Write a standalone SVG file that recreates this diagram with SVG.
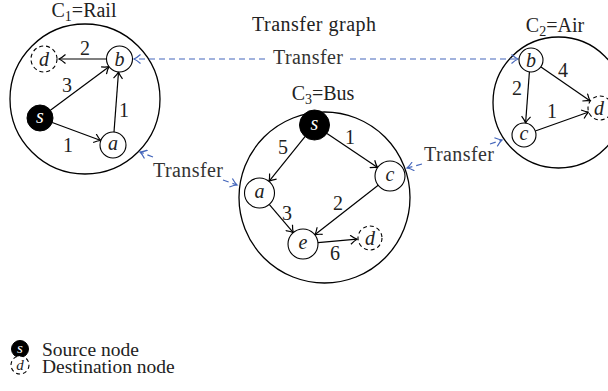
<svg xmlns="http://www.w3.org/2000/svg" width="608" height="391" viewBox="0 0 608 391">
<style>
text{font-family:"Liberation Serif","Times New Roman",serif;font-size:20px;fill:#222}
.nl{font-style:italic;text-anchor:middle}
.el{text-anchor:middle}
.cl{text-anchor:middle}
.lg{font-size:19.5px}
.big{fill:none;stroke:#000;stroke-width:1.3}
.nd{fill:#fff;stroke:#000;stroke-width:1.1}
.dst{fill:#fff;stroke:#000;stroke-width:1.1;stroke-dasharray:4 3}
.src{fill:#000;stroke:#000}
.e{fill:none;stroke:#000;stroke-width:1.2;marker-end:url(#ah)}
.t{fill:none;stroke:#4466bb;stroke-width:1.2;stroke-dasharray:6 4;marker-end:url(#bh)}
.tl{text-anchor:middle;fill:#333}
</style>
<defs>
<marker id="ah" viewBox="-8 -5 10 10" refX="0" refY="0" markerWidth="10" markerHeight="10" markerUnits="userSpaceOnUse" orient="auto"><path d="M-6.5,-4.5 Q-2.5,-1 0,0 Q-2.5,1 -6.5,4.5" fill="none" stroke="#000" stroke-width="1.2" stroke-dasharray="none"/></marker>
<marker id="bh" viewBox="-8 -5 10 10" refX="0" refY="0" markerWidth="10" markerHeight="10" markerUnits="userSpaceOnUse" orient="auto"><path d="M-6.5,-4.5 Q-2.5,-1 0,0 Q-2.5,1 -6.5,4.5" fill="none" stroke="#4466bb" stroke-width="1.2" stroke-dasharray="none"/></marker>
</defs>
<rect width="608" height="391" fill="#fff"/>
<text class="cl" x="314" y="31" textLength="124">Transfer graph</text>

<g id="C1">
<circle class="big" cx="85" cy="99" r="75"/>
<text class="cl" x="84" y="17">C<tspan font-size="14" dy="4">1</tspan><tspan dy="-4">=Rail</tspan></text>
</g>
<g id="C3">
<circle class="big" cx="324.5" cy="197.5" r="85.5"/>
<text class="cl" x="323" y="100">C<tspan font-size="14" dy="4">3</tspan><tspan dy="-4">=Bus</tspan></text>
</g>
<g id="C2">
<circle class="big" cx="558.5" cy="102.5" r="65.5"/>
<text class="cl" x="555" y="32">C<tspan font-size="14" dy="4">2</tspan><tspan dy="-4">=Air</tspan></text>
</g>

<g id="connectors">
<path class="e" d="M106,59 L59,59"/>
<path class="e" d="M50.4,110.3 L109,66.7"/>
<path class="e" d="M52.2,122.5 L100.8,140.5"/>
<path class="e" d="M114,132 L118.5,72"/>
<path class="e" d="M305,136.7 L269,181.3"/>
<path class="e" d="M327,133.4 L377.6,167.6"/>
<path class="e" d="M378.2,185.2 L314.8,234.8"/>
<path class="e" d="M269.2,204.4 L293.3,232.6"/>
<path class="e" d="M318,242.7 L357,239.2"/>
<path class="e" d="M541,67 L590.3,101"/>
<path class="e" d="M529.4,72 L525.6,123"/>
<path class="e" d="M535.3,131 L588.7,112"/>
<path class="t" d="M265,59 L134,59"/>
<path class="t" d="M350,59 L518,59"/>
<path class="t" d="M153,157 L140,152"/>
<path class="t" d="M223,180 L237,185"/>
<path class="t" d="M422,164 L407,168"/>
<path class="t" d="M490,144 L502,140"/>
<text class="tl" x="308" y="64" textLength="70">Transfer</text>
<text class="tl" x="188" y="177" textLength="70">Transfer</text>
<text class="tl" x="459" y="161" textLength="70">Transfer</text>
</g>

<g id="edge-labels">
<text class="el" x="85" y="55">2</text>
<text class="el" x="67" y="92">3</text>
<text class="el" x="68" y="152">1</text>
<text class="el" x="124" y="117">1</text>
<text class="el" x="283" y="154">5</text>
<text class="el" x="350" y="144">1</text>
<text class="el" x="338" y="210">2</text>
<text class="el" x="287" y="220">3</text>
<text class="el" x="335" y="260">6</text>
<text class="el" x="563" y="77">4</text>
<text class="el" x="517" y="95">2</text>
<text class="el" x="552" y="118">1</text>
</g>

<g id="C1-d"><circle class="dst" cx="44" cy="59" r="13"/><text class="nl" x="44" y="66">d</text></g>
<g id="C1-b"><circle class="nd" cx="119.5" cy="59" r="13"/><text class="nl" x="119.5" y="66">b</text></g>
<g id="C1-s"><circle class="src" cx="40" cy="118" r="13"/><text class="nl" x="40" y="123" style="fill:#fff">s</text></g>
<g id="C1-a"><circle class="nd" cx="113" cy="145" r="13"/><text class="nl" x="113" y="150">a</text></g>

<g id="C3-s"><circle class="src" cx="314.5" cy="125" r="15"/><text class="nl" x="314.5" y="130" style="fill:#fff">s</text></g>
<g id="C3-a"><circle class="nd" cx="259.5" cy="193" r="15"/><text class="nl" x="259.5" y="198">a</text></g>
<g id="C3-c"><circle class="nd" cx="390" cy="176" r="15"/><text class="nl" x="390" y="181">c</text></g>
<g id="C3-e"><circle class="nd" cx="303" cy="244" r="15"/><text class="nl" x="303" y="249">e</text></g>
<g id="C3-d"><circle class="dst" cx="370" cy="238" r="12"/><text class="nl" x="370" y="245">d</text></g>

<g id="C2-b"><circle class="nd" cx="531" cy="60" r="12"/><text class="nl" x="531" y="67">b</text></g>
<g id="C2-c"><circle class="nd" cx="524" cy="135" r="12"/><text class="nl" x="524" y="140">c</text></g>
<g id="C2-d"><circle class="dst" cx="600" cy="108" r="12"/><text class="nl" x="599" y="115">d</text></g>

<g id="legend">
<circle class="src" cx="20" cy="349" r="8.5"/>
<text class="nl" x="20" y="353" style="fill:#fff;font-size:15px">s</text>
<text class="lg" x="42" y="356">Source node</text>
<circle class="dst" cx="20" cy="365" r="9"/>
<text class="nl" x="20" y="370" style="font-size:15px">d</text>
<text class="lg" x="42" y="373">Destination node</text>
</g>
</svg>
